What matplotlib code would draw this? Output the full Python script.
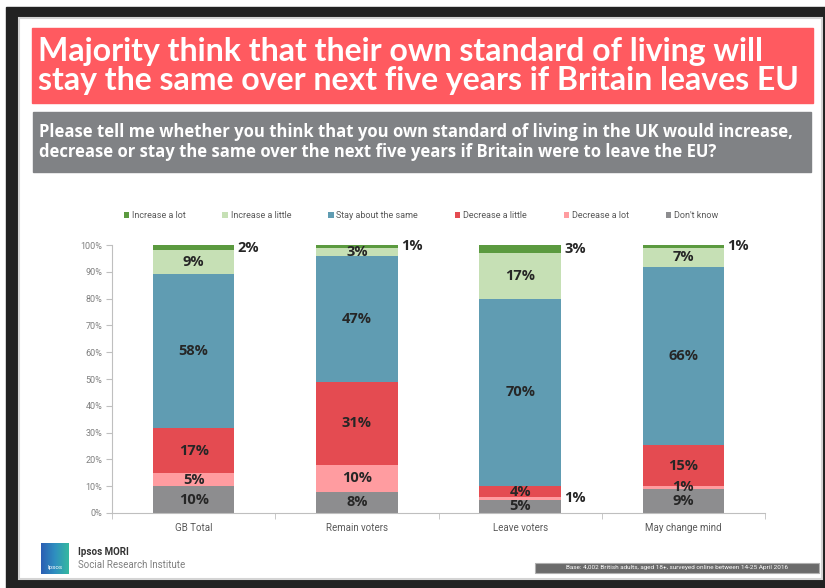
import numpy as np
import matplotlib.pyplot as plt
from matplotlib.colors import LinearSegmentedColormap
from matplotlib.patches import Rectangle

groups = ["GB Total", "Remain voters", "Leave voters", "May change mind"]
answers = ["Increase a lot", "Increase a little", "Stay about the same",
           "Decrease a little", "Decrease a lot", "Don't know"]

# survey shares in %, one list per answer, groups in the order above
increase_lot = [2, 1, 3, 1]
increase_little = [9, 3, 17, 7]
stay_same = [58, 47, 70, 66]
decrease_little = [17, 31, 4, 15]
decrease_lot = [5, 10, 1, 1]
dont_know = [10, 8, 5, 9]

y_ticks = [0, 10, 20, 30, 40, 50, 60, 70, 80, 90, 100]

colors = {
    "Increase a lot": "#5b9a3f",
    "Increase a little": "#c6e0b5",
    "Stay about the same": "#609cb2",
    "Decrease a little": "#e44b51",
    "Decrease a lot": "#ff9ca0",
    "Don't know": "#8d8d8f",
}
values = {
    "Increase a lot": increase_lot,
    "Increase a little": increase_little,
    "Stay about the same": stay_same,
    "Decrease a little": decrease_little,
    "Decrease a lot": decrease_lot,
    "Don't know": dont_know,
}
# labels that sit beside the bar rather than inside it
outside = [("Increase a lot", 0), ("Increase a lot", 1), ("Increase a lot", 2),
           ("Increase a lot", 3), ("Decrease a lot", 2)]

W, H = 825, 588
narrow = ["Liberation Sans Narrow", "Roboto", "DejaVu Sans"]


def fx(x):
    return x / W


def fy(y):
    return 1 - y / H


def box(x0, y0, x1, y1, z=-1, **kw):
    fig.patches.append(Rectangle((fx(x0), fy(y1)), fx(x1) - fx(x0), fy(y0) - fy(y1),
                                 transform=fig.transFigure, zorder=z, **kw))


fig = plt.figure(figsize=(W / 100, H / 100), dpi=100, facecolor="white")

# dark frame and white slide
box(6, 7, 825, 588, z=-3, color="#222222")
box(19, 18, 822, 579, z=-2, facecolor="white", edgecolor="#d4d4d4", lw=1.5)

# title and question boxes
box(32, 28, 813, 103, color="#ff5a60")
fig.text(fx(38), fy(66), "Majority think that their own standard of living will\n"
         "stay the same over next five years if Britain leaves EU",
         color="white", fontsize=23, fontweight="bold", family="Lato",
         va="center", ha="left", linespacing=1.0)
box(33, 112, 811, 172, color="#808285")
fig.text(fx(39), fy(142), "Please tell me whether you think that you own standard of living "
         "in the UK would increase,\ndecrease or stay the same over the next five "
         "years if Britain were to leave the EU?",
         color="white", fontsize=12.0, fontweight="bold", family="Open Sans",
         va="center", ha="left", linespacing=1.2)

ax = fig.add_axes([fx(112), fy(513), fx(765) - fx(112), fy(245) - fy(513)])
x = np.arange(len(groups))
bottom = np.zeros(len(groups))
totals = np.sum([values[a] for a in answers], axis=0)
handles = {}
for a in answers[::-1]:
    share = np.array(values[a]) / totals * 100
    handles[a] = ax.bar(x, share, 0.5, bottom=bottom, color=colors[a], label=a, zorder=2)
    for i, v in enumerate(values[a]):
        mid = bottom[i] + share[i] / 2
        if (a, i) in outside:
            ax.text(i + 0.27, mid, f"{v}%", ha="left", va="center", fontsize=10.5,
                    fontweight="bold", family="Open Sans", color="#262626",
                    clip_on=False)
        else:
            ax.text(i, mid, f"{v}%", ha="center", va="center", fontsize=10.5,
                    fontweight="bold", family="Open Sans", color="#262626")
    bottom += share

ax.set_xlim(-0.5, 3.5)
ax.set_ylim(0, 100)
ax.set_yticks(y_ticks)
ax.set_yticklabels([f"{t}%" for t in y_ticks], fontsize=6.5, color="#7f7f7f",
                   family=narrow)
ax.set_xticks(x)
ax.set_xticklabels(groups, fontsize=7, color="#595959", family=narrow)
ax.set_xticks(np.arange(-0.5, 4, 1), minor=True)
ax.tick_params(axis="x", which="major", length=0, pad=7)
ax.tick_params(axis="x", which="minor", length=4, color="#bfbfbf")
ax.tick_params(axis="y", length=4, color="#bfbfbf", pad=3)
for s in ["top", "right"]:
    ax.spines[s].set_visible(False)
for s in ["left", "bottom"]:
    ax.spines[s].set_color("#bfbfbf")

fig.legend([handles[a] for a in answers], answers, loc="center",
           bbox_to_anchor=(fx(421), fy(216)), ncol=6, frameon=False,
           handlelength=0.6, handleheight=0.6, handletextpad=0.3,
           columnspacing=4.1, prop={"family": narrow, "size": 6.5},
           labelcolor="#595959")

# footer: logo, institute name and base note
logo = fig.add_axes([fx(41), fy(574), fx(69) - fx(41), fy(543) - fy(574)])
grad = np.linspace(0, 1, 50)[None, :]
logo.imshow(grad, cmap=LinearSegmentedColormap.from_list(
    "ip", ["#2b5fb3", "#2f8fc0", "#35b8a0"]), aspect="auto", extent=[0, 1, 0, 1])
logo.text(0.5, 0.2, "Ipsos", color="white", fontsize=4.5, ha="center", va="center",
          family=narrow)
logo.set_axis_off()
fig.text(fx(78), fy(552), "Ipsos MORI", fontsize=7, fontweight="bold",
         color="#333333", family=narrow, va="center")
fig.text(fx(78), fy(565), "Social Research Institute", fontsize=7,
         color="#7f7f7f", family=narrow, va="center")
box(535, 563, 819, 573, z=1, facecolor="#6b6b6b", edgecolor="#b0b0b0", lw=0.8)
fig.text(fx(677), fy(568), "Base: 4,002 British adults, aged 18+, surveyed online "
         "between 14-25 April 2016", fontsize=4.6, color="white", family=narrow,
         ha="center", va="center")

fig.savefig("out.png", dpi=100, facecolor=fig.get_facecolor())
